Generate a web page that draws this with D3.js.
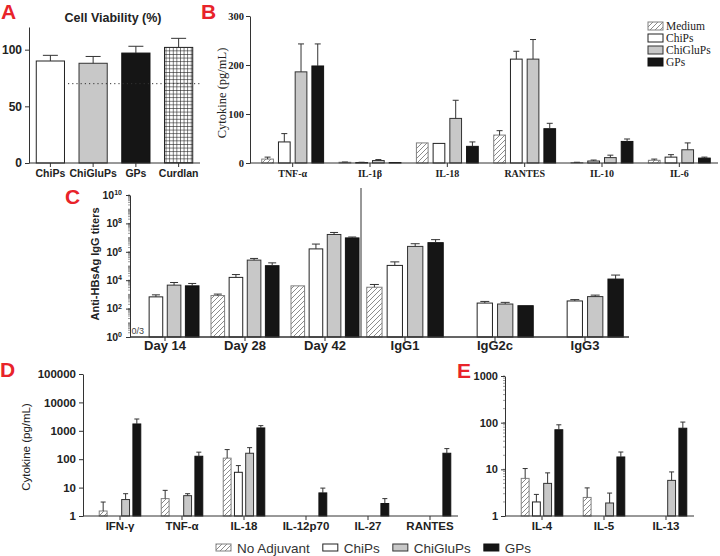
<!DOCTYPE html>
<html>
<head>
<meta charset="utf-8">
<script src="https://cdn.jsdelivr.net/npm/d3@7"></script>
<style>
  body { margin: 0; background: #fff; }
  svg { display: block; }
</style>
</head>
<body>
<div id="chart"></div>
<script>
// ---------- data ----------
var seriesNames = ["Medium", "ChiPs", "ChiGluPs", "GPs"];

// A: cell viability (%)
var viabilityGroups = ["ChiPs", "ChiGluPs", "GPs", "Curdlan"];
var viabilityMean = [90, 88, 97, 102];
var viabilitySd = [5, 6, 6, 8];
var viabilityCutoff = 70;

// B: cytokines in vitro (pg/mL)
var bCytokines = ["TNF-α", "IL-1β", "IL-18", "RANTES", "IL-10", "IL-6"];
var bMedium = [8, 1.5, 41, 57, 1, 5.5];
var bMediumSd = [4, 0.5, 0, 9, 0.5, 2.5];
var bChips = [43, 1, 40, 212, 4, 12];
var bChipsSd = [17, 0.5, 0, 16, 2, 5];
var bChiGlu = [186, 5, 91, 212, 11, 27];
var bChiGluSd = [57, 2, 37, 40, 5, 14];
var bGps = [198, 1, 34, 70, 44, 10];
var bGpsSd = [45, 0, 9, 11, 5, 2];

// C: anti-HBsAg IgG titers
var cTimeGroups = ["Day 14", "Day 28", "Day 42"];
var cIsoGroups = ["IgG1", "IgG2c", "IgG3"];
var cMedium = [null, 830, 4000, 3200, null, null];
var cMediumSd = [0, 220, 0, 1800, 0, 0];
var cChips = [670, 15800, 1.6e6, 1.1e5, 245, 345];
var cChipsSd = [260, 9200, 1.9e6, 85000, 75, 85];
var cChiGlu = [4500, 2.6e5, 1.66e7, 2.4e6, 210, 700];
var cChiGluSd = [2400, 80000, 6.4e6, 1.3e6, 65, 190];
var cGps = [4000, 1.05e5, 9.5e6, 4.4e6, 160, 12000];
var cGpsSd = [1900, 61000, 1.5e6, 2.8e6, 0, 11000];

// D: cytokines in vivo, Th1 panel (pg/mL)
var dCytokines = ["IFN-γ", "TNF-α", "IL-18", "IL-12p70", "IL-27", "RANTES"];
var dMedium = [1.5, 4.1, 109, null, null, null];
var dMediumSd = [1.6, 3.9, 109, 0, 0, 0];
var dChips = [null, null, 34.6, null, null, null];
var dChipsSd = [0, 0, 25, 0, 0, 0];
var dChiGlu = [3.8, 5.2, 162, null, null, null];
var dChiGluSd = [2.3, 0.9, 93, 0, 0, 0];
var dGps = [1740, 127, 1260, 6.5, 2.75, 162];
var dGpsSd = [860, 50, 260, 3.1, 1.35, 74];

// E: Th2 panel (pg/mL)
var eCytokines = ["IL-4", "IL-5", "IL-13"];
var eMedium = [6.4, 2.5, null];
var eMediumSd = [4, 1.5, 0];
var eChips = [2.0, null, null];
var eChipsSd = [0.9, 0, 0];
var eChiGlu = [5.0, 1.9, 5.8];
var eChiGluSd = [3.4, 1.2, 3];
var eGps = [70.5, 18.4, 76];
var eGpsSd = [19.5, 5.1, 27];

var legendB = ["Medium", "ChiPs", "ChiGluPs", "GPs"];
var legendVivo = ["No Adjuvant", "ChiPs", "ChiGluPs", "GPs"];

// ---------- setup ----------
var SANS = "'Liberation Sans', Arial, sans-serif";
var SERIF = "'Liberation Serif', 'Times New Roman', serif";
var RED = "#e8232a";

var svg = d3.select("#chart").append("svg")
    .attr("width", 720)
    .attr("height", 556);

var defs = svg.append("defs");
defs.append("pattern")
    .attr("id", "hatch")
    .attr("patternUnits", "userSpaceOnUse")
    .attr("width", 5).attr("height", 5)
  .append("path")
    .attr("d", "M-1,1 L1,-1 M0,5 L5,0 M4,6 L6,4")
    .attr("stroke", "#8c8c8c")
    .attr("stroke-width", 1);
var grid = defs.append("pattern")
    .attr("id", "grid")
    .attr("patternUnits", "userSpaceOnUse")
    .attr("width", 3.6).attr("height", 3.6);
grid.append("rect").attr("width", 3.6).attr("height", 3.6).attr("fill", "#fff");
grid.append("path")
    .attr("d", "M0,0.3 H3.6 M0.3,0 V3.6")
    .attr("stroke", "#222")
    .attr("stroke-width", 0.7);

var fills = {Medium: "url(#hatch)", ChiPs: "#fff", ChiGluPs: "#c8c8c8", GPs: "#151515", Curdlan: "url(#grid)"};
var outlines = {Medium: "#808080", ChiPs: "#222", ChiGluPs: "#333", GPs: "#111", Curdlan: "#222"};

function toRows(groups, values, sds) {
  var rows = [];
  groups.forEach(function(g, i) {
    seriesNames.forEach(function(s, j) {
      if (values[j][i] == null) return;
      rows.push({group: g, series: s, value: values[j][i], sd: sds[j][i]});
    });
  });
  return rows;
}

function drawBars(g, rows, xPos, bw, y, capW) {
  var base = y.range()[0];
  g.selectAll(null)
    .data(rows)
    .enter().append("rect")
      .attr("x", xPos)
      .attr("y", function(d) { return y(d.value); })
      .attr("width", bw)
      .attr("height", function(d) { return base - y(d.value); })
      .attr("fill", function(d) { return fills[d.series]; })
      .attr("stroke", function(d) { return outlines[d.series]; })
      .attr("stroke-width", 1);

  var err = g.selectAll(null)
    .data(rows.filter(function(d) { return d.sd > 0; }))
    .enter().append("g")
      .attr("stroke", "#333")
      .attr("stroke-width", 1);
  err.append("line")
      .attr("x1", function(d) { return xPos(d) + bw / 2; })
      .attr("x2", function(d) { return xPos(d) + bw / 2; })
      .attr("y1", function(d) { return y(d.value); })
      .attr("y2", function(d) { return y(d.value + d.sd); });
  err.append("line")
      .attr("x1", function(d) { return xPos(d) + bw / 2 - capW / 2; })
      .attr("x2", function(d) { return xPos(d) + bw / 2 + capW / 2; })
      .attr("y1", function(d) { return y(d.value + d.sd); })
      .attr("y2", function(d) { return y(d.value + d.sd); });
}

function styleAxis(ax, font, size, weight) {
  ax.attr("font-family", font).attr("font-size", size).attr("font-weight", weight);
  ax.selectAll("line, path").attr("stroke", "#333");
  ax.selectAll("text").attr("fill", "#222");
}

function bottomAxis(scale, yPos, xStart, xEnd, font, size, weight, pad) {
  var ax = svg.append("g")
      .attr("transform", "translate(0," + yPos + ")")
      .call(d3.axisBottom(scale).tickSize(4).tickSizeOuter(0).tickPadding(pad));
  ax.select(".domain").remove();
  styleAxis(ax, font, size, weight);
  svg.append("line")
      .attr("x1", xStart).attr("x2", xEnd)
      .attr("y1", yPos).attr("y2", yPos)
      .attr("stroke", "#333");
  return ax;
}

function leftAxis(axis, xPos, font, size, weight) {
  var ax = svg.append("g")
      .attr("transform", "translate(" + xPos + ",0)")
      .call(axis);
  styleAxis(ax, font, size, weight);
  return ax;
}

function minorTicks(y, xPos, maxExp) {
  var vals = [];
  for (var k = 0; k < maxExp; k++) {
    for (var m = 2; m <= 10; m++) vals.push(m * Math.pow(10, k));
  }
  svg.append("g").selectAll("line")
    .data(vals)
    .enter().append("line")
      .attr("x1", xPos - 2).attr("x2", xPos)
      .attr("y1", function(d) { return y(d); })
      .attr("y2", function(d) { return y(d); })
      .attr("stroke", "#555")
      .attr("stroke-width", 0.6);
}

function panelLetter(t, x, y) {
  svg.append("text")
      .attr("x", x).attr("y", y)
      .attr("font-family", SANS).attr("font-size", 21).attr("font-weight", "bold")
      .attr("fill", RED)
      .text(t);
}

function yLabel(t, x, y, font, size, weight) {
  svg.append("text")
      .attr("transform", "translate(" + x + "," + y + ") rotate(-90)")
      .attr("text-anchor", "middle")
      .attr("font-family", font).attr("font-size", size).attr("font-weight", weight)
      .attr("fill", "#222")
      .text(t);
}

// ---------- A ----------
var xA = d3.scaleBand().domain(viabilityGroups).range([29, 200]).paddingInner(0.34).paddingOuter(0.17);
var yA = d3.scaleLinear().domain([0, 120]).range([163, 27]);
var rowsA = viabilityGroups.map(function(n, i) {
  return {group: n, series: n, value: viabilityMean[i], sd: viabilitySd[i]};
});
drawBars(svg.append("g"), rowsA, function(d) { return xA(d.group); }, xA.bandwidth(), yA, 15);
svg.append("line")
    .attr("x1", 68).attr("x2", 200)
    .attr("y1", yA(viabilityCutoff)).attr("y2", yA(viabilityCutoff))
    .attr("stroke", "#333").attr("stroke-dasharray", "1.2,3");
bottomAxis(xA, 163, 29, 200, SANS, 10.5, "bold", 3);
leftAxis(d3.axisLeft(yA).tickValues([0, 50, 100]).tickSize(4).tickSizeOuter(0).tickPadding(3), 29, SANS, 12, "bold");
svg.append("text")
    .attr("x", 113).attr("y", 22)
    .attr("text-anchor", "middle")
    .attr("font-family", SANS).attr("font-size", 12.5).attr("font-weight", "bold")
    .attr("fill", "#222")
    .text("Cell Viability (%)");
panelLetter("A", 1, 19);

// ---------- B ----------
var xB0 = d3.scaleBand().domain(bCytokines).range([254, 718]).paddingInner(0.2).paddingOuter(0.1);
var xB1 = d3.scaleBand().domain(seriesNames).range([0, xB0.bandwidth()]).paddingInner(0.3);
var yB = d3.scaleLinear().domain([0, 300]).range([163, 16]);
var rowsB = toRows(bCytokines, [bMedium, bChips, bChiGlu, bGps], [bMediumSd, bChipsSd, bChiGluSd, bGpsSd]);
drawBars(svg.append("g"), rowsB, function(d) { return xB0(d.group) + xB1(d.series); }, xB1.bandwidth(), yB, 6);
bottomAxis(xB0, 163, 250, 718, SERIF, 10, "bold", 3);
leftAxis(d3.axisLeft(yB).tickValues([0, 100, 200, 300]).tickSize(4).tickSizeOuter(0).tickPadding(2), 250, SERIF, 10.5, "bold");
yLabel("Cytokine (pg/mL)", 226, 93, SERIF, 12.5, "normal");
panelLetter("B", 201, 19);

var legB = svg.append("g").selectAll("g")
    .data(legendB)
    .enter().append("g")
      .attr("transform", function(d, i) { return "translate(648," + (22 + i * 12) + ")"; });
legB.append("rect")
    .attr("width", 15).attr("height", 8)
    .attr("fill", function(d) { return fills[d]; })
    .attr("stroke", function(d) { return outlines[d]; });
legB.append("text")
    .attr("x", 18).attr("y", 7.5)
    .attr("font-family", SERIF).attr("font-size", 11.5)
    .attr("fill", "#222")
    .text(function(d) { return d; });

// ---------- C ----------
var yC = d3.scaleLog().domain([1, 1e10]).range([337, 195]);
var xCL = d3.scaleBand().domain(cTimeGroups).range([125, 365]).paddingInner(0.15).paddingOuter(0.075);
var xCR = d3.scaleBand().domain(cIsoGroups).range([360, 630]).paddingInner(0.15).paddingOuter(0.075);
var xCL1 = d3.scaleBand().domain(seriesNames).range([0, xCL.bandwidth()]).paddingInner(0.25);
var xCR1 = d3.scaleBand().domain(seriesNames).range([0, xCR.bandwidth()]).paddingInner(0.25);
var cAll = cTimeGroups.concat(cIsoGroups);
var rowsC = toRows(cAll, [cMedium, cChips, cChiGlu, cGps], [cMediumSd, cChipsSd, cChiGluSd, cGpsSd]);
var gC = svg.append("g");
drawBars(gC, rowsC.filter(function(d) { return cTimeGroups.indexOf(d.group) >= 0; }),
  function(d) { return xCL(d.group) + xCL1(d.series); }, xCL1.bandwidth(), yC, 8);
drawBars(gC, rowsC.filter(function(d) { return cIsoGroups.indexOf(d.group) >= 0; }),
  function(d) { return xCR(d.group) + xCR1(d.series); }, xCR1.bandwidth(), yC, 9);

bottomAxis(xCL, 337, 130, 629, SANS, 13, "bold", 0);
bottomAxis(xCR, 337, 130, 629, SANS, 13, "bold", 0);
svg.append("line")
    .attr("x1", 361).attr("x2", 361)
    .attr("y1", 188).attr("y2", 337)
    .attr("stroke", "#333");

minorTicks(yC, 130, 10);
var axC = leftAxis(d3.axisLeft(yC).tickValues([1, 1e2, 1e4, 1e6, 1e8, 1e10]).tickSize(4).tickSizeOuter(0).tickPadding(4),
  130, SANS, 10.5, "bold");
axC.selectAll(".tick text").each(function(d) {
  var t = d3.select(this);
  t.text("10");
  t.append("tspan")
      .attr("dy", "-0.55em")
      .attr("font-size", 7)
      .text(Math.round(Math.log10(d)));
});
svg.append("text")
    .attr("x", xCL("Day 14") + xCL1("Medium") + xCL1.bandwidth() / 2)
    .attr("y", 334)
    .attr("text-anchor", "middle")
    .attr("font-family", SANS).attr("font-size", 9)
    .attr("fill", "#444")
    .text("0/3");
yLabel("Anti-HBsAg IgG titers", 99, 264, SANS, 11, "bold");
panelLetter("C", 65, 204);

// ---------- D ----------
var yD = d3.scaleLog().domain([1, 1e5]).range([516, 374]);
var xD0 = d3.scaleBand().domain(dCytokines).range([89, 461]).paddingInner(0.33).paddingOuter(0.165);
var xD1 = d3.scaleBand().domain(seriesNames).range([0, xD0.bandwidth()]).paddingInner(0.3);
var rowsD = toRows(dCytokines, [dMedium, dChips, dChiGlu, dGps], [dMediumSd, dChipsSd, dChiGluSd, dGpsSd]);
drawBars(svg.append("g"), rowsD, function(d) { return xD0(d.group) + xD1(d.series); }, xD1.bandwidth(), yD, 5);
bottomAxis(xD0, 516, 83, 458, SANS, 11.5, "bold", 2);
leftAxis(d3.axisLeft(yD).tickValues([1, 10, 100, 1000, 10000, 100000]).tickFormat(d3.format("d"))
  .tickSize(4).tickSizeOuter(0).tickPadding(3), 83, SANS, 11.5, "bold");
yLabel("Cytokine (pg/mL)", 30, 447, SANS, 11.5, "normal");
panelLetter("D", 0, 377);

// ---------- E ----------
var yE = d3.scaleLog().domain([1, 1000]).range([516, 376]);
var xE0 = d3.scaleBand().domain(eCytokines).range([511, 697]).paddingInner(0.33).paddingOuter(0.165);
var xE1 = d3.scaleBand().domain(seriesNames).range([0, xE0.bandwidth()]).paddingInner(0.3);
var rowsE = toRows(eCytokines, [eMedium, eChips, eChiGlu, eGps], [eMediumSd, eChipsSd, eChiGluSd, eGpsSd]);
drawBars(svg.append("g"), rowsE, function(d) { return xE0(d.group) + xE1(d.series); }, xE1.bandwidth(), yE, 5);
bottomAxis(xE0, 516, 505, 694, SANS, 11.5, "bold", 2);
minorTicks(yE, 505, 3);
leftAxis(d3.axisLeft(yE).tickValues([1, 10, 100, 1000]).tickFormat(d3.format("d"))
  .tickSize(4).tickSizeOuter(0).tickPadding(3), 505, SANS, 11, "bold");
panelLetter("E", 457, 378);

// ---------- bottom legend ----------
var legV = svg.append("g").attr("transform", "translate(216,0)");
var cursor = 0;
legendVivo.forEach(function(label, i) {
  var key = seriesNames[i];
  var item = legV.append("g").attr("transform", "translate(" + cursor + ",0)");
  item.append("rect")
      .attr("x", 0).attr("y", 544)
      .attr("width", 15).attr("height", 7)
      .attr("fill", fills[key])
      .attr("stroke", outlines[key]);
  var txt = item.append("text")
      .attr("x", 21).attr("y", 552.5)
      .attr("font-family", SANS).attr("font-size", 13.5)
      .attr("fill", "#333")
      .text(label);
  cursor += 21 + txt.node().getComputedTextLength() + 13;
});
</script>
</body>
</html>
